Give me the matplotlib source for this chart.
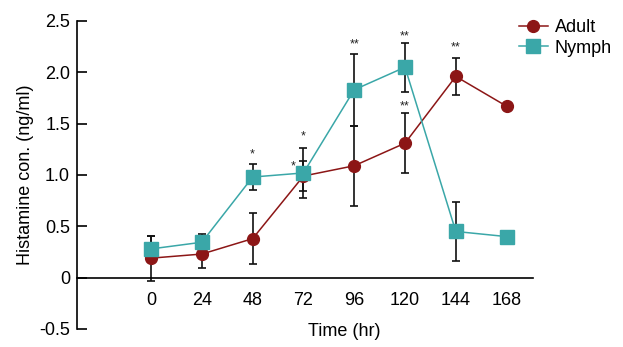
import numpy as np
import matplotlib
matplotlib.use("Agg")
import matplotlib.pyplot as plt

plt.rcParams['font.family'] = ['Liberation Sans', 'DejaVu Sans']

# 时间点与两组数据
hours = [0, 24, 48, 72, 96, 120, 144, 168]
adult = [0.19, 0.23, 0.38, 0.99, 1.09, 1.31, 1.96, 1.67]
adult_err = [0.22, 0.14, 0.25, 0.15, 0.39, 0.29, 0.18, np.nan]
nymph = [0.28, 0.345, 0.98, 1.02, 1.83, 2.05, 0.45, 0.40]
nymph_err = [0.13, 0.085, 0.13, 0.24, 0.35, 0.24, 0.29, np.nan]

# 显著性标记
star_x = [48, 72, 67, 96, 120, 120, 144]
star_y = [1.20, 1.375, 1.085, 2.27, 2.35, 1.667, 2.24]
star_txt = ['*', '*', '*', '**', '**', '**', '**']

yticks = [-0.5, 0, 0.5, 1.0, 1.5, 2.0, 2.5]
ytick_labels = ['-0.5', '0', '0.5', '1.0', '1.5', '2.0', '2.5']

c_adult = '#8c1616'
c_nymph = '#3aa7a8'

fig = plt.figure(figsize=(6.23, 3.47), dpi=100)
ax = fig.add_axes([0.1236, 0.0519, 0.732, 0.8876])

# 先移动坐标轴位置，否则会重置刻度标签设置
for s in ['top', 'right']:
    ax.spines[s].set_visible(False)
ax.spines['bottom'].set_position(('data', 0))
ax.spines['bottom'].set_linewidth(1.2)
ax.spines['left'].set_linewidth(1.2)

ax.errorbar(hours, adult, yerr=adult_err, fmt='none', ecolor='#111111',
            elinewidth=1.2, capsize=3, capthick=1.2, zorder=2)
ax.errorbar(hours, nymph, yerr=nymph_err, fmt='none', ecolor='#111111',
            elinewidth=1.2, capsize=3, capthick=1.2, zorder=2)
ax.plot(hours, adult, '-o', color=c_adult, lw=1.1, ms=8.5, label='Adult', zorder=3)
ax.plot(hours, nymph, '-s', color=c_nymph, lw=1.1, ms=9.5, label='Nymph', zorder=4)

for x, y, t in zip(star_x, star_y, star_txt):
    ax.text(x, y, t, ha='center', va='center', fontsize=9, color='#222222')

ax.set_xlim(-35, 180.5)
ax.set_ylim(-0.5, 2.5)
ax.set_xticks(hours)
ax.set_xticklabels([str(h) for h in hours], fontsize=13)
ax.set_yticks(yticks)
ax.set_yticklabels(ytick_labels, fontsize=13)
ax.tick_params(axis='x', length=0, pad=10)
ax.tick_params(axis='y', direction='in', length=7, width=1.2, pad=5)

ax.set_ylabel('Histamine con. (ng/ml)', fontsize=13, labelpad=4)
ax.set_xlabel('Time (hr)', fontsize=13)
ax.xaxis.set_label_coords(0.585, 0.02)

ax.legend(loc='upper left', bbox_to_anchor=(0.953, 1.03), frameon=False,
          fontsize=13, handlelength=1.6, handletextpad=0.4, labelspacing=0.2,
          borderaxespad=0)

fig.savefig('out.png', dpi=100)
